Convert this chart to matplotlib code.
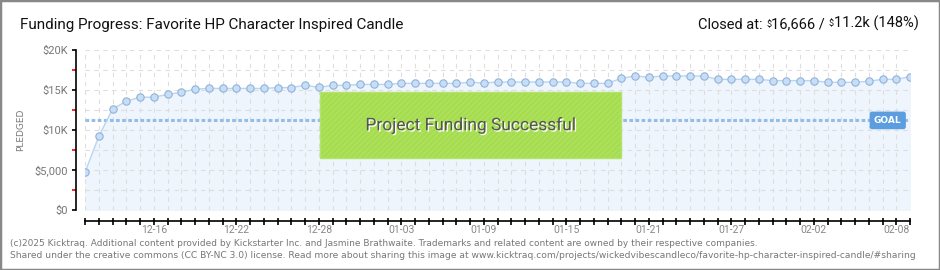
import numpy as np
import pandas as pd
import matplotlib
matplotlib.use('Agg')
import matplotlib.pyplot as plt
import matplotlib.dates as mdates
from matplotlib.patches import Rectangle
import matplotlib.patheffects as pe

# daily pledged totals (USD), 2024-12-11 .. 2025-02-09
dates = pd.date_range('2024-12-11', '2025-02-09', freq='D')
pledged = [
    4700, 9200, 12600, 13600, 14100, 14100, 14450, 14700, 15100, 15200,
    15200, 15200, 15200, 15200, 15300, 15300, 15600, 15330, 15580, 15580,
    15700, 15700, 15700, 15830, 15830, 15830, 15830, 15830, 15960, 15875,
    16000, 16000, 16000, 16000, 16000, 16000, 15830, 15830, 15830, 16460,
    16750, 16600, 16750, 16750, 16750, 16750, 16330, 16330, 16330, 16330,
    16170, 16170, 16170, 16170, 15960, 15960, 15960, 16100, 16330, 16330,
    16666,
]
goal = 11200
y_ticks = [0, 5000, 10000, 15000, 20000]
y_labels = [r'\$0', r'\$5,000', r'\$10K', r'\$15K', r'\$20K']
title = 'Funding Progress: Favorite HP Character Inspired Candle'
closed_parts = ['Closed at: ', r'\$', '16,666 / ', r'\$', '11.2k (148%)']
footer = ['(c)2025 Kicktraq. Additional content provided by Kickstarter Inc. and Jasmine Brathwaite. '
          'Trademarks and related content are owned by their respective companies.',
          'Shared under the creative commons (CC BY-NC 3.0) license. Read more about sharing this image at '
          'www.kicktraq.com/projects/wickedvibescandleco/favorite-hp-character-inspired-candle/#sharing']

plt.rcParams['hatch.color'] = '#b4e36c'
plt.rcParams['hatch.linewidth'] = 0.6
PX = 0.72  # points per pixel at dpi 100

fig = plt.figure(figsize=(9.4, 2.7), dpi=100)
ax = fig.add_axes([85 / 940, 60 / 270, 825 / 940, 160 / 270])

ax.fill_between(dates, pledged, 0, color='#eef5fd', zorder=1)
ax.plot(dates, pledged, color='#b8d5f2', lw=1, zorder=3)
ax.plot(dates, pledged, ls='none', marker='o', ms=5.3, mfc='#c6def7', mec='#93b2d6', mew=0.8, zorder=4)
ax.axhline(goal, color='#93bce6', lw=2.2, ls=(0, (1.2, 0.8)), zorder=2)

ax.set_xlim(dates[0], dates[-1])
ax.set_ylim(0, 20000)

tick_dates = [d for d in dates if (d - pd.Timestamp('2024-12-16')).days % 6 == 0]
ax.set_xticks(tick_dates)
ax.set_xticks(dates, minor=True)
ax.xaxis.set_major_formatter(mdates.DateFormatter('%m-%d'))
ax.set_yticks(y_ticks)
ax.set_yticklabels(y_labels)
ax.set_yticks([2500, 7500, 12500, 17500], minor=True)
ax.grid(True, which='both', color='#dedede', lw=0.8, ls=(0, (4, 4)), zorder=0)

for s in ['top', 'right']:
    ax.spines[s].set_visible(False)
ax.spines['left'].set_position(('outward', 9 * PX))
ax.spines['bottom'].set_position(('outward', 11 * PX))
ax.spines['left'].set_linewidth(1.2)
ax.spines['bottom'].set_linewidth(1.2)
ax.tick_params(axis='y', which='both', direction='out', length=4 * PX, width=1.2, pad=3,
               labelsize=8, labelcolor='#777777')
ax.tick_params(axis='y', which='minor', color='red')
ax.tick_params(axis='x', which='both', direction='inout', length=7 * PX, width=1.2, pad=0.5,
               labelsize=7.5, labelcolor='#888888')
for lab in ax.get_yticklabels() + ax.get_xticklabels():
    lab.set_family('Roboto')
ax.set_facecolor('none')

ax.text(-0.078, 0.5, 'PLEDGED', transform=ax.transAxes, rotation=90, ha='center', va='center',
        fontsize=6.5, color='#777777')

# success banner
ax.add_patch(Rectangle((0.285, 0.325), 0.365, 0.4125, transform=ax.transAxes,
                       facecolor='#a6dd4f', edgecolor='#b4e36c', lw=1, hatch='//////', zorder=5))
ax.text(0.4675, 0.53, 'Project Funding Successful', transform=ax.transAxes, ha='center', va='center',
        fontsize=12.5, color='#555555', zorder=6, family='Roboto',
        path_effects=[pe.withSimplePatchShadow(offset=(1, -1), shadow_rgbFace='white', alpha=1)])

# goal tag
ax.text(0.973, goal, 'GOAL', transform=ax.get_yaxis_transform(), ha='center', va='center',
        fontsize=6.5, color='white', fontweight='bold', zorder=6,
        bbox=dict(boxstyle='round,pad=0.4,rounding_size=0.2', fc='#5c9ddf', ec='#5c9ddf'))

fig.text(20 / 940, 1 - 25 / 270, title, ha='left', va='center', fontsize=11, color='#111111',
         family='Roboto')

# "Closed at" line with small raised dollar signs, chained left to right
big = 10.5
prev = fig.text(698 / 940, 1 - 25 / 270, closed_parts[0], ha='left', va='center', fontsize=big,
                color='#111111', family='Roboto')
for part in closed_parts[1:]:
    small = part == r'\$'
    prev = ax.annotate(part, xy=(1, 0.88 if small else 0.5), xycoords=prev,
                       fontsize=6.5 if small else big, color='#111111', family='Roboto',
                       ha='left', va='top' if small else 'center', annotation_clip=False)

fig.text(10 / 940, 1 - 243 / 270, footer[0], ha='left', va='center', fontsize=6.5, color='#777777')
fig.text(10 / 940, 1 - 255 / 270, footer[1], ha='left', va='center', fontsize=6.6, color='#777777')

fig.add_artist(Rectangle((0, 0), 1, 1, transform=fig.transFigure, fill=False, ec='#888888', lw=2.5))

fig.savefig('out.png', dpi=100)
